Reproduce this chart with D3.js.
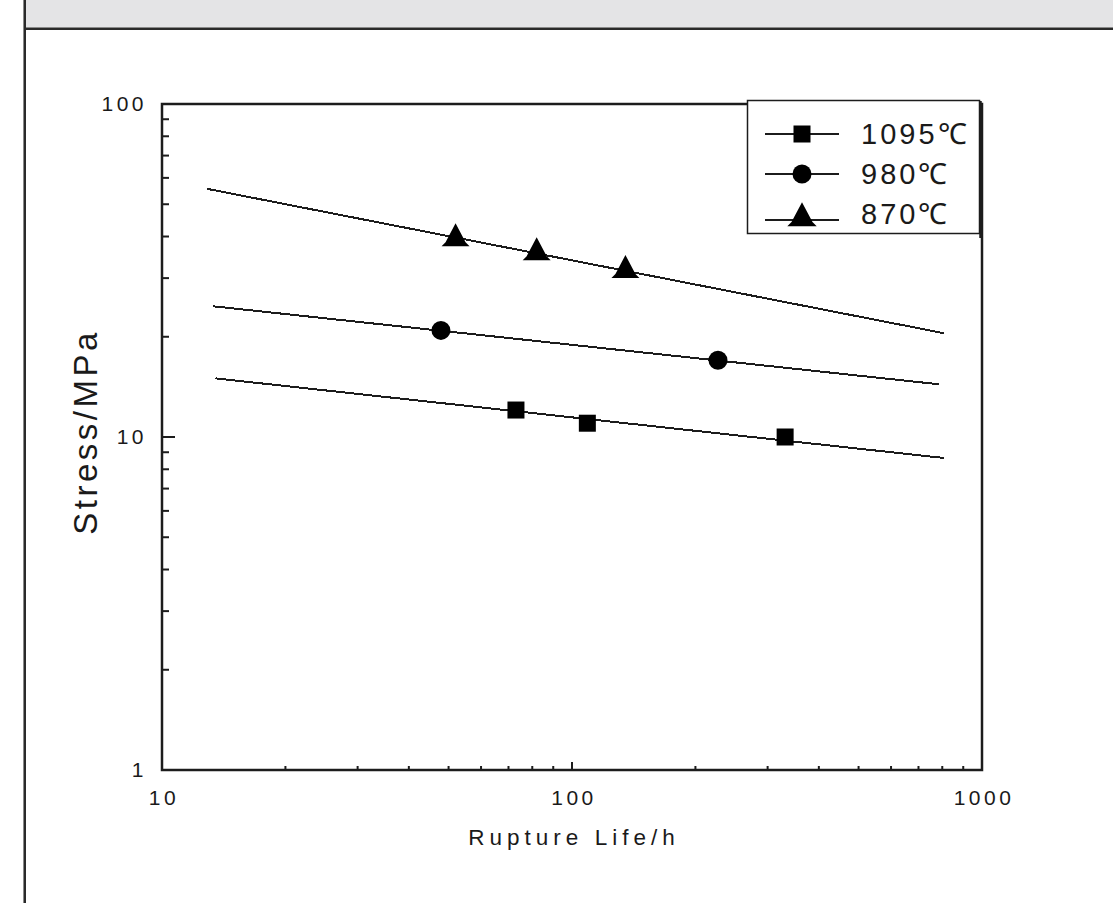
<!DOCTYPE html>
<html>
<head>
<meta charset="utf-8">
<script src="https://cdn.jsdelivr.net/npm/d3@7"></script>
<style>
  html, body { margin: 0; padding: 0; background: #fff; }
  svg { display: block; }
  text { font-family: "Liberation Sans", Arial, sans-serif; fill: #1a1a1a; }
</style>
</head>
<body>
<svg id="chart" width="1113" height="903"></svg>
<script>
// ---- data ----
const seriesNames = ["1095℃", "980℃", "870℃"];
const life1095 = [73, 109, 331];
const stress1095 = [12.05, 11.0, 10.0];
const life980 = [47.9, 227];
const stress980 = [20.9, 17.0];
const life870 = [52, 82, 135];
const stress870 = [39.0, 35.4, 31.3];
// fitted lines (end points)
const fitLife1095 = [13.5, 807];
const fitStress1095 = [15.0, 8.65];
const fitLife980 = [13.3, 785];
const fitStress980 = [24.7, 14.4];
const fitLife870 = [12.9, 807];
const fitStress870 = [55.6, 20.5];
const xTickValues = [10, 100, 1000];
const yTickValues = [1, 10, 100];
const xLabel = "Rupture Life/h";
const yLabel = "Stress/MPa";

const series = [
  { name: seriesNames[0], life: life1095, stress: stress1095, fitL: fitLife1095, fitS: fitStress1095, marker: "square" },
  { name: seriesNames[1], life: life980, stress: stress980, fitL: fitLife980, fitS: fitStress980, marker: "circle" },
  { name: seriesNames[2], life: life870, stress: stress870, fitL: fitLife870, fitS: fitStress870, marker: "triangle" }
];

const svg = d3.select("#chart");
const ink = "#1c1c1c";

// ---- frame / header ----
svg.append("rect").attr("x", 26).attr("y", 0).attr("width", 1087).attr("height", 27).attr("fill", "#e4e4e6");
svg.append("line").attr("x1", 24).attr("x2", 1113).attr("y1", 27.5).attr("y2", 27.5).attr("stroke", "#8a8a8a").attr("stroke-width", 1);
svg.append("line").attr("x1", 24).attr("x2", 1113).attr("y1", 29).attr("y2", 29).attr("stroke", "#2a2a2a").attr("stroke-width", 2);
svg.append("line").attr("x1", 23.5).attr("x2", 23.5).attr("y1", 0).attr("y2", 903).attr("stroke", "#8a8a8a").attr("stroke-width", 1);
svg.append("line").attr("x1", 25).attr("x2", 25).attr("y1", 0).attr("y2", 903).attr("stroke", "#2a2a2a").attr("stroke-width", 2);

// ---- scales ----
const L = 162, R = 982, T = 104, B = 770;
const x = d3.scaleLog().domain([10, 1000]).range([L, R]);
const y = d3.scaleLog().domain([1, 100]).range([B, T]);

// minor ticks
const g = svg.append("g");
const yMinor = [];
for (let dec of [1, 10]) for (let k = 2; k <= 9; k++) yMinor.push(dec * k);
const xMinor = [];
for (let dec of [10, 100]) for (let k = 2; k <= 9; k++) xMinor.push(dec * k);

g.selectAll(".ymin").data(yMinor).join("line")
  .attr("x1", L).attr("x2", L + 7).attr("y1", d => y(d)).attr("y2", d => y(d))
  .attr("stroke", ink).attr("stroke-width", 2);
g.selectAll(".ymaj").data([10]).join("line")
  .attr("x1", L).attr("x2", L + 13).attr("y1", d => y(d)).attr("y2", d => y(d))
  .attr("stroke", ink).attr("stroke-width", 2);
g.selectAll(".xmin").data(xMinor).join("line")
  .attr("x1", d => x(d)).attr("x2", d => x(d)).attr("y1", B).attr("y2", B - 4)
  .attr("stroke", ink).attr("stroke-width", 2);
g.selectAll(".xmaj").data([100]).join("line")
  .attr("x1", d => x(d)).attr("x2", d => x(d)).attr("y1", B).attr("y2", B - 8)
  .attr("stroke", ink).attr("stroke-width", 2);

// plot frame
svg.append("rect").attr("x", L).attr("y", T).attr("width", R - L).attr("height", B - T)
  .attr("fill", "none").attr("stroke", ink).attr("stroke-width", 2.5);

// tick labels
svg.selectAll(".ylab").data(yTickValues).join("text")
  .attr("x", 147).attr("y", d => y(d)).attr("dy", "0.35em")
  .attr("text-anchor", "end").attr("font-size", 21).attr("letter-spacing", 3.5)
  .text(d => d);
svg.selectAll(".xlab").data(xTickValues).join("text")
  .attr("x", d => x(d) + 2).attr("y", 798).attr("dy", "0.35em")
  .attr("text-anchor", "middle").attr("font-size", 21).attr("letter-spacing", 3.5)
  .text(d => d);

// axis titles
svg.append("text").attr("x", 574).attr("y", 845)
  .attr("text-anchor", "middle").attr("font-size", 22.5).attr("letter-spacing", 5)
  .text(xLabel);
svg.append("text").attr("transform", "translate(97,432) rotate(-90)")
  .attr("text-anchor", "middle").attr("font-size", 33).attr("letter-spacing", 3.5)
  .text(yLabel);

// ---- fit lines ----
const clip = svg.append("g");
series.forEach(s => {
  const pts = s.fitL.map((l, i) => [x(l), y(s.fitS[i])]);
  clip.append("path").attr("d", d3.line()(pts))
    .attr("fill", "none").attr("stroke", ink).attr("stroke-width", 2)
    .attr("shape-rendering", "crispEdges");
});

// ---- markers ----
function drawMarker(sel, type, cx, cy, scale) {
  const k = scale || 1;
  if (type === "square") {
    sel.append("rect").attr("x", cx - 8.5 * k).attr("y", cy - 8.5 * k)
      .attr("width", 17 * k).attr("height", 17 * k).attr("fill", "#000");
  } else if (type === "circle") {
    sel.append("circle").attr("cx", cx).attr("cy", cy).attr("r", 9.5 * k).attr("fill", "#000");
  } else {
    const p = d3.path();
    p.moveTo(cx, cy - 17 * k);
    p.lineTo(cx + 10 * k, cy + 2 * k);
    p.lineTo(cx + 14 * k, cy + 6 * k);
    p.lineTo(cx - 14 * k, cy + 6 * k);
    p.lineTo(cx - 10 * k, cy + 2 * k);
    p.closePath();
    sel.append("path").attr("d", p.toString()).attr("fill", "#000");
  }
}
const mk = svg.append("g");
series.forEach(s => {
  s.life.forEach((l, i) => drawMarker(mk, s.marker, x(l), y(s.stress[i])));
});

// ---- legend ----
const lg = svg.append("g");
lg.append("rect").attr("x", 747.5).attr("y", 100.5).attr("width", 232).attr("height", 133)
  .attr("fill", "#fff").attr("stroke", ink).attr("stroke-width", 1.5);
lg.append("line").attr("x1", 980.5).attr("x2", 980.5).attr("y1", 101).attr("y2", 238)
  .attr("stroke", ink).attr("stroke-width", 2.5);
const rowY = [134, 174, 214];
const lineY = [134, 174, 220];
series.forEach((s, i) => {
  lg.append("line").attr("x1", 765).attr("x2", 839).attr("y1", lineY[i]).attr("y2", lineY[i])
    .attr("stroke", ink).attr("stroke-width", 2);
  drawMarker(lg, s.marker, 802, lineY[i], s.marker === "triangle" ? 1.05 : 1);
  lg.append("text").attr("x", 861).attr("y", rowY[i]).attr("dy", "0.36em")
    .attr("font-size", 29).attr("letter-spacing", 3).text(s.name);
});
</script>
</body>
</html>
